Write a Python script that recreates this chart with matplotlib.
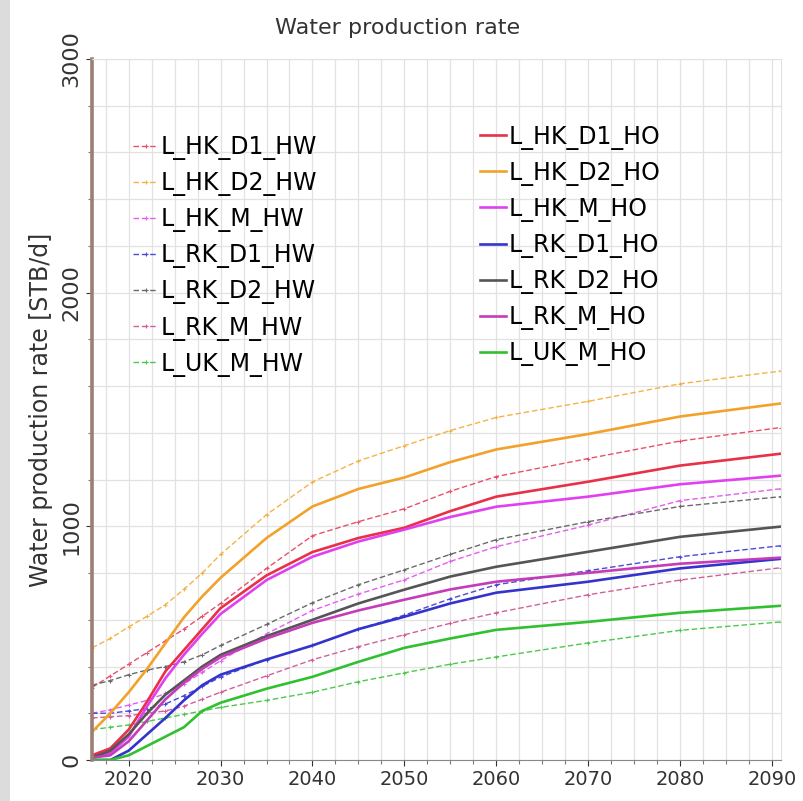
import matplotlib
matplotlib.use("Agg")
import matplotlib.pyplot as plt
from matplotlib.patches import Rectangle
from matplotlib.ticker import MultipleLocator

plt.rcParams["font.family"] = ["DejaVu Sans"]

years = [2016, 2018, 2020, 2022, 2024, 2026, 2028, 2030, 2035, 2040,
         2045, 2050, 2055, 2060, 2070, 2080, 2091]

# history-matched water cut cases (dashed)
hk_d1_hw = [310, 360, 410, 460, 510, 560, 615, 670, 820, 960, 1020, 1075, 1150, 1213, 1290, 1365, 1423]
hk_d2_hw = [480, 520, 570, 615, 665, 730, 800, 880, 1050, 1190, 1280, 1345, 1410, 1466, 1535, 1610, 1665]
hk_m_hw = [200, 215, 235, 255, 285, 325, 375, 425, 540, 640, 710, 771, 850, 913, 1005, 1110, 1161]
rk_d1_hw = [200, 200, 210, 220, 240, 275, 315, 355, 430, 490, 560, 620, 690, 750, 810, 870, 917]
rk_d2_hw = [320, 340, 365, 385, 400, 420, 450, 490, 580, 673, 750, 814, 880, 943, 1020, 1085, 1127]
rk_m_hw = [180, 185, 190, 200, 210, 230, 260, 290, 360, 429, 485, 536, 585, 630, 707, 770, 823]
uk_m_hw = [130, 140, 150, 165, 180, 195, 210, 225, 255, 290, 335, 373, 410, 441, 501, 555, 591]

# history-matched oil rate cases (solid)
hk_d1_ho = [20, 50, 130, 250, 380, 470, 560, 650, 790, 890, 950, 994, 1065, 1127, 1191, 1260, 1311]
hk_d2_ho = [120, 200, 290, 390, 500, 610, 700, 780, 950, 1085, 1160, 1209, 1275, 1329, 1395, 1470, 1526]
hk_m_ho = [10, 30, 100, 230, 350, 450, 540, 625, 770, 870, 935, 986, 1040, 1084, 1127, 1180, 1217]
rk_d1_ho = [0, 0, 40, 110, 180, 255, 320, 365, 430, 490, 560, 613, 670, 716, 763, 820, 861]
rk_d2_ho = [10, 40, 110, 200, 280, 340, 400, 450, 530, 600, 670, 729, 785, 827, 891, 955, 999]
rk_m_ho = [10, 20, 80, 170, 260, 330, 390, 440, 520, 587, 640, 686, 730, 763, 801, 840, 866]
uk_m_ho = [0, 0, 20, 60, 100, 140, 210, 245, 305, 356, 420, 480, 520, 557, 591, 630, 660]

hw_cases = [
    ("L_HK_D1_HW", hk_d1_hw, "#e8506a"),
    ("L_HK_D2_HW", hk_d2_hw, "#f5b347"),
    ("L_HK_M_HW", hk_m_hw, "#e45ef0"),
    ("L_RK_D1_HW", rk_d1_hw, "#4a4ad8"),
    ("L_RK_D2_HW", rk_d2_hw, "#6a6a6a"),
    ("L_RK_M_HW", rk_m_hw, "#d0609a"),
    ("L_UK_M_HW", uk_m_hw, "#4cc94c"),
]
ho_cases = [
    ("L_HK_D1_HO", hk_d1_ho, "#e83048"),
    ("L_HK_D2_HO", hk_d2_ho, "#f2a22a"),
    ("L_HK_M_HO", hk_m_ho, "#e040f0"),
    ("L_RK_D1_HO", rk_d1_ho, "#3434cc"),
    ("L_RK_D2_HO", rk_d2_ho, "#555555"),
    ("L_RK_M_HO", rk_m_ho, "#c43cb8"),
    ("L_UK_M_HO", uk_m_ho, "#30c030"),
]

fig = plt.figure(figsize=(8.04, 8.01), dpi=100)
fig.patches.append(Rectangle((0, 0), 0.012, 1, transform=fig.transFigure,
                             facecolor="#dcdcdc", edgecolor="none"))
ax = fig.add_axes([0.1144, 0.0512, 0.857, 0.8751])

hw_lines = []
for name, vals, color in hw_cases:
    ln, = ax.plot(years, vals, color=color, lw=1.0, ls=(0, (4, 2)),
                  marker="+", ms=2.5, mew=0.8, markevery=0.015, label=name)
    hw_lines.append(ln)
ho_lines = []
for name, vals, color in ho_cases:
    ln, = ax.plot(years, vals, color=color, lw=1.9, label=name)
    ho_lines.append(ln)

ax.set_xlim(2016, 2091)
ax.set_ylim(0, 3000)
ax.xaxis.set_major_locator(MultipleLocator(10))
ax.xaxis.set_minor_locator(MultipleLocator(2.5))
ax.yaxis.set_major_locator(MultipleLocator(1000))
ax.yaxis.set_minor_locator(MultipleLocator(200))
ax.grid(which="both", color="#e2e2e2", lw=0.9)
ax.set_axisbelow(True)

ax.tick_params(axis="both", which="major", colors="#333333", length=4, width=0.8)
ax.tick_params(axis="x", which="major", labelsize=14)
ax.tick_params(axis="y", which="major", labelsize=16, labelrotation=90)
ax.tick_params(axis="both", which="minor", length=3, width=0.8, color="#777777")
for lbl in ax.get_yticklabels():
    lbl.set_va("center")

ax.spines["left"].set_color("#9c7f74")
ax.spines["left"].set_linewidth(2.6)
ax.spines["bottom"].set_color("#888888")
for side in ("top", "right"):
    ax.spines[side].set_color("#e2e2e2")

ax.set_title("Water production rate", fontsize=16, color="#333333",
             x=0.444, pad=18)
ax.set_ylabel("Water production rate [STB/d]", fontsize=17, color="#333333",
              labelpad=6)

leg_kw = dict(frameon=False, fontsize=17, handletextpad=0.1,
              labelspacing=0.47, borderaxespad=0)
leg1 = ax.legend(handles=hw_lines, loc="upper left", bbox_to_anchor=(0.046, 0.905),
                 handlelength=1.05, **leg_kw)
ax.add_artist(leg1)
ax.legend(handles=ho_lines, loc="upper left", bbox_to_anchor=(0.55, 0.92),
          handlelength=1.1, **leg_kw)

fig.savefig("out.png", dpi=100)
